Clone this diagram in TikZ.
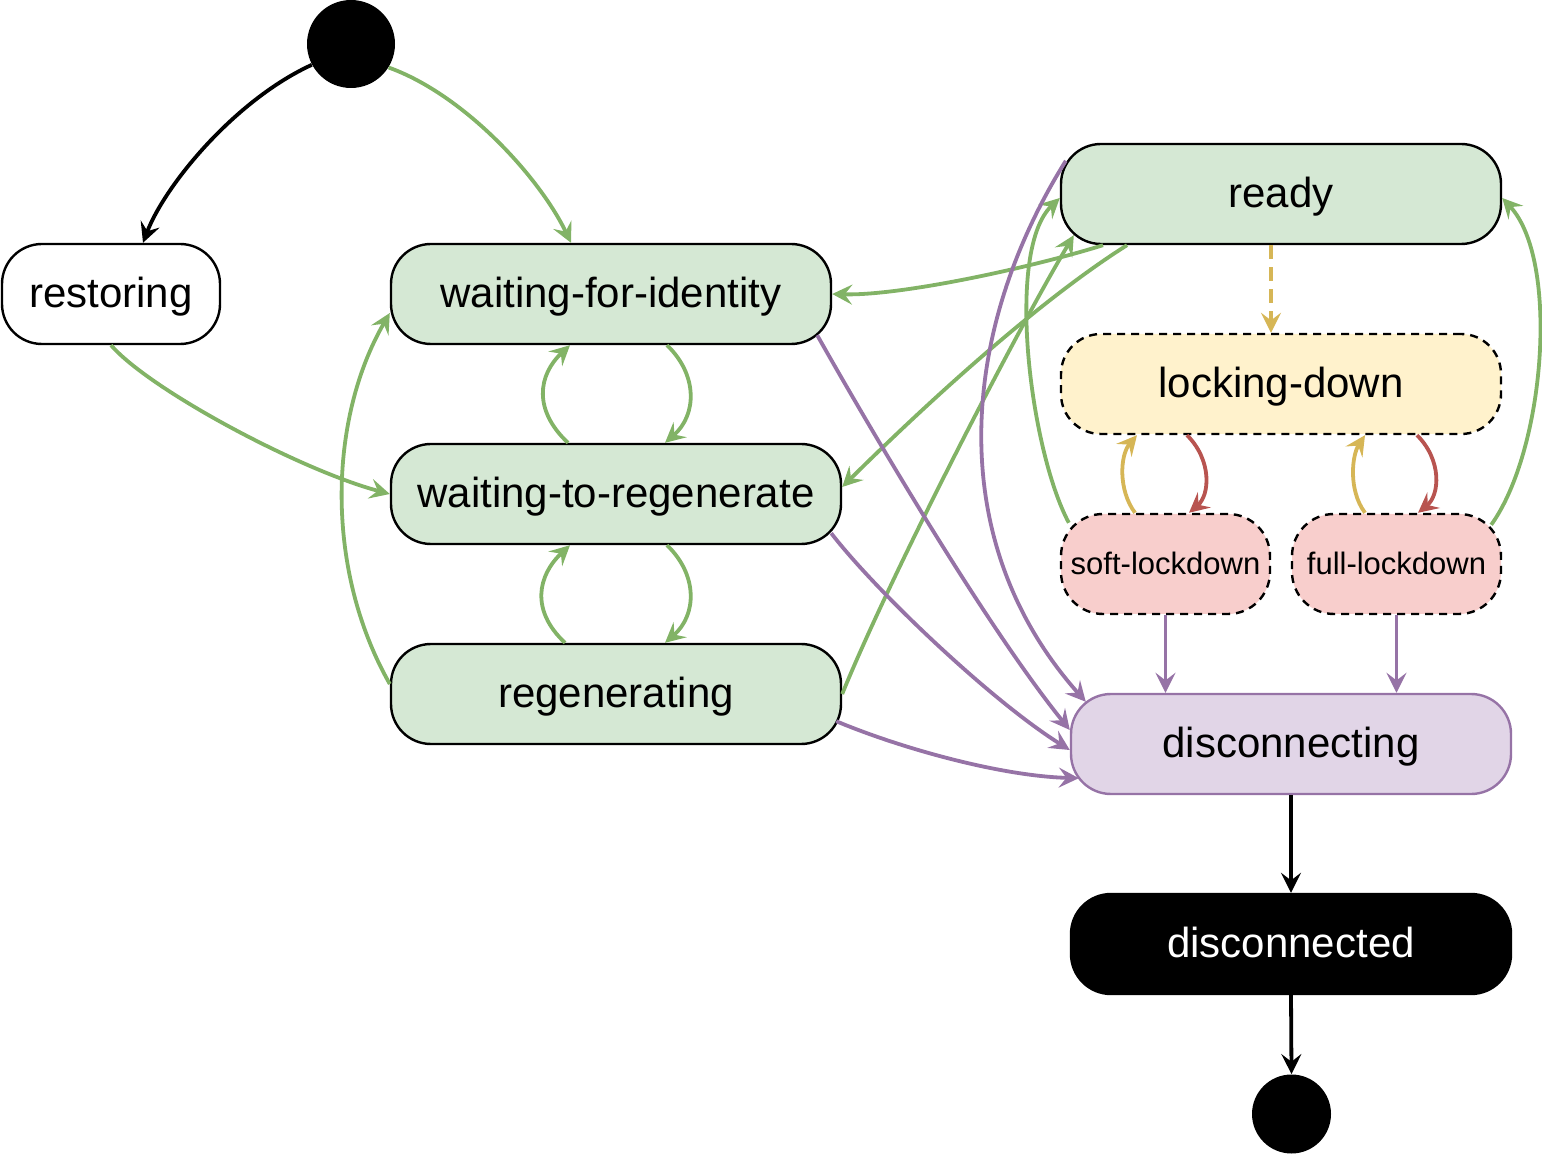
\documentclass[tikz,border=0pt]{standalone}
\usepackage{fontspec}
\setmainfont{Liberation Sans}
\usetikzlibrary{arrows.meta,calc}
\definecolor{gfill}{HTML}{D5E8D4}
\definecolor{gline}{HTML}{82B366}
\definecolor{yfill}{HTML}{FFF2CC}
\definecolor{yline}{HTML}{D6B656}
\definecolor{rfill}{HTML}{F8CECC}
\definecolor{rline}{HTML}{B85450}
\definecolor{pfill}{HTML}{E1D5E7}
\definecolor{pline}{HTML}{9673A6}
\begin{document}
\begin{tikzpicture}[x=0.5pt,y=-0.5pt,
  state/.style={rectangle, rounded corners=20pt, draw=black, line width=1.2pt,
    minimum width=220pt, minimum height=50pt, inner sep=0pt,
    font=\fontsize{21}{25}\selectfont, text height=18.3pt, text depth=4.4pt},
  gstate/.style={state, fill=gfill},
  smallstate/.style={state, fill=rfill, dash pattern=on 4pt off 3pt,
    minimum width=104.5pt, rounded corners=21pt,
    font=\fontsize{15.5}{19}\selectfont, text height=14.3pt, text depth=3.3pt},
  dot/.style={circle, fill=black, inner sep=0pt},
  conn/.style={line width=1.9pt, -{Stealth[length=10pt,width=10pt,inset=3.8pt]}},
  bedge/.style={conn, draw=black},
  gedge/.style={conn, draw=gline},
  pedge/.style={conn, draw=pline},
  yedge/.style={conn, draw=yline},
  redge/.style={conn, draw=rline}]
\useasboundingbox (0,0) rectangle (1542,1154);

% nodes
\node[dot, minimum size=44pt] (init) at (351,44) {};
\node[state, fill=white, minimum width=109pt] (restoring) at (111,294) {restoring};
\node[gstate] (wfi) at (611,294) {waiting-for-identity};
\node[gstate, minimum width=225pt] (wtr) at (616,494) {waiting-to-regenerate};
\node[gstate, minimum width=225pt] (regen) at (616,694) {regenerating};
\node[gstate] (ready) at (1281,194) {ready};
\node[state, fill=yfill, dash pattern=on 4pt off 3pt] (lock) at (1281,384) {locking-down};
\node[smallstate] (soft) at (1165.5,564) {soft-lockdown};
\node[smallstate] (full) at (1396.5,564) {full-lockdown};
\node[state, fill=pfill, draw=pline] (disc) at (1291,744) {disconnecting};
\node[state, fill=black, text=white] (discd) at (1291,944) {disconnected};
\node[dot, minimum size=39.5pt] (fin) at (1291.5,1114) {};

% initial transitions
\draw[bedge] (init.208) .. controls (235,100) and (165,185) .. ([xshift=16pt]restoring.north);
\draw[gedge] (init.-32) .. controls (465,95) and (540,178) .. ([xshift=-20pt]wfi.north);
\draw[gedge] (restoring.south) .. controls (150,390) and (300,470) .. (wtr.west);

% loops between left states
\draw[gedge] ([xshift=-24pt]wtr.north) .. controls (533,410) and (538,375) .. ([xshift=-20.5pt]wfi.south);
\draw[gedge] ([xshift=28pt]wfi.south) .. controls (698,375) and (697,415) .. ([xshift=24.5pt]wtr.north);
\draw[gedge] ([xshift=-25.5pt]regen.north) .. controls (530,610) and (538,575) .. ([xshift=-23pt]wtr.south);
\draw[gedge] ([xshift=25.5pt]wtr.south) .. controls (698,575) and (697,615) .. ([xshift=24.5pt]regen.north);
\draw[gedge] ([yshift=5pt]regen.west) .. controls (325,570) and (328,420) .. ([yshift=-9.5pt]wfi.west);

% ready outgoing / incoming green
\draw[gedge] ([xshift=-89pt]ready.south) .. controls (1030,268) and (900,296) .. (wfi.east);
\draw[gedge] ([xshift=-77pt]ready.south) .. controls (1040,300) and (930,400) .. ([yshift=3.5pt]wtr.east);
\draw[gedge] (regen.east) .. controls (891,574) and (1015,334) .. ([xshift=7pt,yshift=5pt]ready.south west);
\draw[gedge] ([xshift=4.5pt,yshift=-5pt]soft.north west) .. controls (1030,450) and (1005,250) .. ([yshift=-2pt]ready.west);
\draw[gedge] ([xshift=-5.5pt,yshift=-6pt]full.north east) .. controls (1545,450) and (1560,260) .. ([yshift=-2pt]ready.east);

% locking
\draw[yedge, dash pattern=on 7pt off 4pt] ([xshift=-5pt]ready.south) -- ([xshift=-5pt]lock.north);
\draw[yedge] ([xshift=-15.25pt]soft.north) .. controls (1118,490) and (1120,455) .. ([xshift=-72pt]lock.south);
\draw[redge] ([xshift=-47pt]lock.south) .. controls (1212,460) and (1210,495) .. ([xshift=11.75pt]soft.north);
\draw[yedge] ([xshift=-15.75pt]full.north) .. controls (1348,490) and (1352,455) .. ([xshift=42pt]lock.south);
\draw[redge] ([xshift=68pt]lock.south) .. controls (1442,460) and (1440,495) .. ([xshift=10.75pt]full.north);

% to disconnecting
\draw[pedge] (soft.south) -- (soft.south |- disc.north);
\draw[pedge] (full.south) -- (full.south |- disc.north);
\draw[pedge] ([xshift=3pt,yshift=-9pt]ready.north west) .. controls (960,330) and (942,540) .. ([xshift=8pt,yshift=-4.5pt]disc.north west);
\draw[pedge] ([xshift=-7.5pt,yshift=5pt]wfi.south east) .. controls (865,420) and (985,625) .. ([yshift=7pt]disc.west);
\draw[pedge] ([xshift=-5.5pt,yshift=6pt]wtr.south east) .. controls (875,590) and (990,700) .. ([yshift=-3pt]disc.west);
\draw[pedge] ([xshift=-3pt,yshift=12pt]regen.south east) .. controls (900,748) and (1000,776) .. ([xshift=4.5pt,yshift=8.5pt]disc.south west);

% final
\draw[bedge] (disc.south) -- (discd.north);
\draw[bedge] (discd.south) -- (fin.north);
\end{tikzpicture}
\end{document}
